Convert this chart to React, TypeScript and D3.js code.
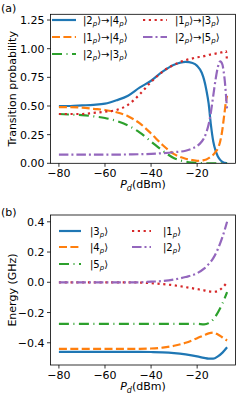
import { useEffect, useRef } from "react";
import { select, scaleLinear, line, curveMonotoneX } from "d3";

// ---- panel (a): transition probability vs drive power ----
const powerA = [-80, -75, -70, -65, -60, -55, -50, -45, -40, -35, -30, -25, -22, -20, -18, -17, -16, -15, -14, -13, -12, -11, -10, -9, -8.5, -8, -7.5, -7];
const p24 = [0.5, 0.5, 0.505, 0.51, 0.52, 0.55, 0.59, 0.66, 0.72, 0.8, 0.86, 0.885, 0.875, 0.85, 0.79, 0.73, 0.64, 0.52, 0.33, 0.19, 0.11, 0.06, 0.03, 0.012, 0.007, 0.004, 0.002, 0.001];
const p14 = [0.49, 0.49, 0.485, 0.475, 0.465, 0.445, 0.41, 0.35, 0.26, 0.16, 0.08, 0.04, 0.028, 0.022, 0.024, 0.028, 0.034, 0.045, 0.06, 0.075, 0.1, 0.13, 0.19, 0.3, 0.38, 0.46, 0.54, 0.59];
const p23 = [0.43, 0.425, 0.42, 0.41, 0.395, 0.37, 0.33, 0.27, 0.19, 0.11, 0.045, 0.015, 0.007, 0.004, 0.002, 0.001, 0, 0, 0, 0, 0, 0, 0, 0, 0, 0, 0, 0];
const p13 = [0.43, 0.43, 0.43, 0.44, 0.45, 0.465, 0.51, 0.6, 0.71, 0.8, 0.86, 0.9, 0.915, 0.925, 0.93, 0.935, 0.94, 0.945, 0.95, 0.953, 0.957, 0.96, 0.965, 0.97, 0.973, 0.976, 0.98, 0.88];
const p25 = [0.075, 0.075, 0.075, 0.075, 0.075, 0.076, 0.077, 0.079, 0.082, 0.088, 0.097, 0.11, 0.13, 0.15, 0.19, 0.22, 0.27, 0.34, 0.45, 0.59, 0.73, 0.84, 0.89, 0.86, 0.8, 0.72, 0.6, 0.47];
const yTicksA = [0, 0.25, 0.5, 0.75, 1.0, 1.25];

// ---- panel (b): energies vs drive power ----
const powerB = [-80, -75, -70, -65, -60, -55, -50, -45, -40, -35, -30, -25, -20, -17, -15, -13, -11, -9, -7];
const e3 = [-0.46, -0.46, -0.46, -0.46, -0.46, -0.46, -0.46, -0.46, -0.461, -0.463, -0.468, -0.477, -0.49, -0.5, -0.505, -0.505, -0.49, -0.465, -0.43];
const e4 = [-0.44, -0.44, -0.44, -0.44, -0.44, -0.44, -0.44, -0.44, -0.438, -0.432, -0.42, -0.4, -0.37, -0.35, -0.338, -0.333, -0.345, -0.365, -0.385];
const e5 = [-0.275, -0.275, -0.275, -0.275, -0.275, -0.275, -0.275, -0.275, -0.275, -0.275, -0.275, -0.275, -0.275, -0.278, -0.27, -0.245, -0.2, -0.14, -0.065];
const e1 = [0, 0, 0, 0, 0, 0, 0, -0.002, -0.006, -0.012, -0.02, -0.032, -0.045, -0.053, -0.06, -0.063, -0.058, -0.035, 0];
const e2 = [0, 0, 0, 0, 0, 0, 0, 0, 0.004, 0.008, 0.018, 0.035, 0.06, 0.09, 0.12, 0.16, 0.22, 0.3, 0.4];
const yTicksB = [-0.4, -0.2, 0.0, 0.2, 0.4];

const xTicks = [-80, -60, -40, -20];

const C = { blue: "#1f77b4", orange: "#ff7f0e", green: "#2ca02c", red: "#d62728", purple: "#9467bd" };
const DASH = { solid: null, dashed: "8,3.4", dotted: "2.2,3.6", dashdot: "9.5,3,2,3", green: "10,4.5,1,4.5" };

type Series = { y: number[]; color: string; dash: string | null; label: [string, string][] };

const FONT = "DejaVu Sans, sans-serif";
const fmt = (v: number, d: number) => (v < 0 ? "\u2212" : "") + Math.abs(v).toFixed(d);

const ket = (n: string): [string, string][] => [["|" + n, "n"], ["p", "s"], ["\u27e9", "n"]];
const trans = (a: string, b: string): [string, string][] => [...ket(a), ["\u2192", "n"], ...ket(b)];

const App = () => {
  const svgRef = useRef<SVGSVGElement>(null);

  useEffect(() => {
    const svg = select(svgRef.current);
    svg.selectAll("*").remove();

    const x = scaleLinear().domain([-83.65, -3.35]).range([50.5, 235.5]);

    const panel = (
      id: string,
      xs: number[],
      y: any,
      yTicks: number[],
      digits: number,
      series: Series[],
      yLabel: string,
      tag: string,
      tagY: number,
      legend: { cols: number[][]; rows: number[]; order: number[][] }
    ) => {
      const [yb, yt] = y.range();
      const [xl, xr] = x.range();
      const g = svg.append("g");
      g.append("clipPath").attr("id", id).append("rect")
        .attr("x", xl).attr("y", yt).attr("width", xr - xl).attr("height", yb - yt);

      const ln = line<number>()
        .x((_, i) => x(xs[i]))
        .y((d) => y(d))
        .curve(curveMonotoneX);

      // legend (no frame visible in the reference)
      const lg = g.append("g").attr("font-family", FONT).attr("font-size", 10);
      legend.order.forEach((col, ci) => {
        col.forEach((si, ri) => {
          const s = series[si];
          const [h0, h1, tx] = legend.cols[ci];
          const yy = legend.rows[ri];
          lg.append("line")
            .attr("x1", h0).attr("x2", h1).attr("y1", yy).attr("y2", yy)
            .attr("stroke", s.color).attr("stroke-width", 2.2)
            .attr("stroke-dasharray", s.dash);
          const t = lg.append("text").attr("x", tx).attr("y", yy + 3.6);
          s.label.forEach(([txt, kind]) => {
            const sp = t.append("tspan").text(txt);
            if (kind === "s") sp.attr("font-size", 7).attr("font-style", "italic").attr("dy", 2);
            else if (txt.startsWith("\u27e9")) sp.attr("dy", -2);
          });
        });
      });

      const curves = g.append("g").attr("clip-path", `url(#${id})`);
      series.forEach((s) => {
        curves.append("path")
          .attr("d", ln(s.y))
          .attr("fill", "none")
          .attr("stroke", s.color)
          .attr("stroke-width", 2.2)
          .attr("stroke-dasharray", s.dash);
      });

      g.append("rect")
        .attr("x", xl).attr("y", yt).attr("width", xr - xl).attr("height", yb - yt)
        .attr("fill", "none").attr("stroke", "#000").attr("stroke-width", 0.8);

      const ax = g.append("g").attr("font-family", FONT).attr("font-size", 11).attr("fill", "#000");
      xTicks.forEach((v) => {
        ax.append("line").attr("x1", x(v)).attr("x2", x(v)).attr("y1", yb).attr("y2", yb + 3.5)
          .attr("stroke", "#000").attr("stroke-width", 0.8);
        ax.append("text").attr("x", x(v)).attr("y", yb + 13.5).attr("text-anchor", "middle").text(fmt(v, 0));
      });
      yTicks.forEach((v) => {
        ax.append("line").attr("x1", xl - 3.5).attr("x2", xl).attr("y1", y(v)).attr("y2", y(v))
          .attr("stroke", "#000").attr("stroke-width", 0.8);
        ax.append("text").attr("x", xl - 6).attr("y", y(v) + 4).attr("text-anchor", "end").text(fmt(v, digits));
      });
      const xlab = ax.append("text").attr("x", (xl + xr) / 2).attr("y", yb + 25).attr("text-anchor", "middle");
      xlab.append("tspan").attr("font-style", "italic").text("P");
      xlab.append("tspan").attr("font-style", "italic").attr("font-size", 8).attr("dy", 2.5).text("d");
      xlab.append("tspan").attr("dy", -2.5).text("(dBm)");
      ax.append("text")
        .attr("transform", `translate(16,${(yb + yt) / 2}) rotate(-90)`)
        .attr("text-anchor", "middle").text(yLabel);
      ax.append("text").attr("x", 1).attr("y", tagY).text(tag);
    };

    const yA = scaleLinear().domain([0, 1.3]).range([163.3, 14.3]);
    panel("clipA", powerA, yA, yTicksA, 2, [
      { y: p24, color: C.blue, dash: DASH.solid, label: trans("2", "4") },
      { y: p14, color: C.orange, dash: DASH.dashed, label: trans("1", "4") },
      { y: p23, color: C.green, dash: DASH.green, label: trans("2", "3") },
      { y: p13, color: C.red, dash: DASH.dotted, label: trans("1", "3") },
      { y: p25, color: C.purple, dash: DASH.dashdot, label: trans("2", "5") },
    ], "Transition probability", "(a)", 12, {
      cols: [[52, 76, 83], [143, 167, 175]],
      rows: [20, 37, 54],
      order: [[0, 1, 2], [3, 4]],
    });

    const yB = scaleLinear().domain([-0.547, 0.445]).range([365, 215]);
    panel("clipB", powerB, yB, yTicksB, 1, [
      { y: e3, color: C.blue, dash: DASH.solid, label: ket("3") },
      { y: e4, color: C.orange, dash: DASH.dashed, label: ket("4") },
      { y: e5, color: C.green, dash: DASH.green, label: ket("5") },
      { y: e1, color: C.red, dash: DASH.dotted, label: ket("1") },
      { y: e2, color: C.purple, dash: DASH.dashdot, label: ket("2") },
    ], "Energy (GHz)", "(b)", 216, {
      cols: [[59, 81, 90], [132, 151, 163]],
      rows: [231, 247, 264],
      order: [[0, 1, 2], [3, 4]],
    });
  }, []);

  return (
    <svg
      ref={svgRef}
      width={240}
      height={394}
      viewBox="0 0 240 394"
      style={{ position: "absolute", left: 0, top: 0, background: "#fff" }}
    />
  );
};

export default App;
